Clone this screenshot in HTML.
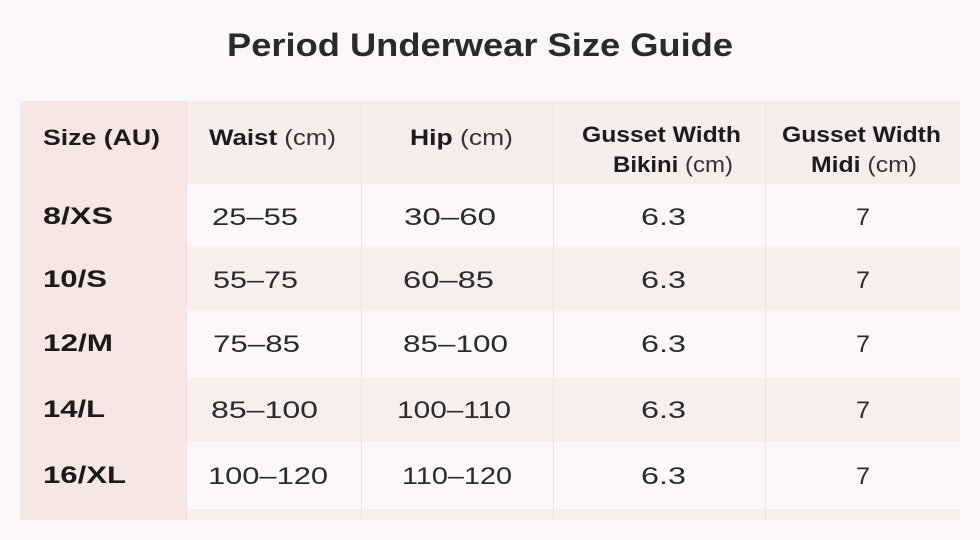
<!DOCTYPE html>
<html><head><meta charset="utf-8"><style>
html,body{margin:0;padding:0;background:#fbf6f8;}
svg{display:block;}
text{font-family:"Liberation Sans",sans-serif;}
.h{font-weight:bold;fill:#1c1c1c;font-size:22px;}
.u{font-weight:normal;fill:#333;}
.l{font-weight:bold;fill:#1a1a1a;font-size:24px;}
.d{fill:#2b2b2b;font-size:24px;}
</style></head><body>
<svg width="980" height="540" viewBox="0 0 980 540" xmlns="http://www.w3.org/2000/svg">
<rect width="980" height="540" fill="#fbf6f8"/>
<text x="227" y="56" textLength="506" lengthAdjust="spacingAndGlyphs" style="font-weight:bold;font-size:32px;fill:#2a2a2a">Period Underwear Size Guide</text>
<!-- header -->
<rect x="20" y="101" width="940" height="83" fill="#f8eded"/>
<rect x="20" y="101" width="166" height="83" fill="#f6e7e5"/>
<!-- rows -->
<rect x="20" y="184" width="940" height="63" fill="#fcf8f9"/>
<rect x="20" y="247" width="940" height="64" fill="#f8eeed"/>
<rect x="20" y="311" width="940" height="67" fill="#fcf8f9"/>
<rect x="20" y="378" width="940" height="64" fill="#f8eeed"/>
<rect x="20" y="442" width="940" height="67" fill="#fcf8f9"/>
<rect x="20" y="509" width="940" height="11" fill="#f8eeed"/>
<!-- first column -->
<rect x="20" y="184" width="166" height="336" fill="#f5e4e2" opacity="0.85"/>
<!-- column lines -->
<g stroke="#eee2e2" stroke-width="1">
<line x1="186.5" y1="101" x2="186.5" y2="520"/>
<line x1="361.5" y1="101" x2="361.5" y2="520"/>
<line x1="553.5" y1="101" x2="553.5" y2="520"/>
<line x1="765.5" y1="101" x2="765.5" y2="520"/>
</g>
<!-- header text -->
<text class="h" x="43" y="145" textLength="117" lengthAdjust="spacingAndGlyphs">Size (AU)</text>
<text class="h" x="209" y="145" textLength="127" lengthAdjust="spacingAndGlyphs">Waist <tspan class="u">(cm)</tspan></text>
<text class="h" x="410" y="145" textLength="103" lengthAdjust="spacingAndGlyphs">Hip <tspan class="u">(cm)</tspan></text>
<text class="h" x="582" y="142" textLength="159" lengthAdjust="spacingAndGlyphs">Gusset Width</text>
<text class="h" x="613" y="172" textLength="120" lengthAdjust="spacingAndGlyphs">Bikini <tspan class="u">(cm)</tspan></text>
<text class="h" x="782" y="142" textLength="159" lengthAdjust="spacingAndGlyphs">Gusset Width</text>
<text class="h" x="811" y="172" textLength="106" lengthAdjust="spacingAndGlyphs">Midi <tspan class="u">(cm)</tspan></text>
<!-- row labels -->
<text class="l" x="43" y="224" textLength="70" lengthAdjust="spacingAndGlyphs">8/XS</text>
<text class="l" x="43" y="287" textLength="64" lengthAdjust="spacingAndGlyphs">10/S</text>
<text class="l" x="43" y="351" textLength="70" lengthAdjust="spacingAndGlyphs">12/M</text>
<text class="l" x="43" y="417" textLength="62" lengthAdjust="spacingAndGlyphs">14/L</text>
<text class="l" x="43" y="483" textLength="83" lengthAdjust="spacingAndGlyphs">16/XL</text>
<!-- waist -->
<text class="d" x="212" y="225" textLength="86" lengthAdjust="spacingAndGlyphs">25–55</text>
<text class="d" x="213" y="288" textLength="85" lengthAdjust="spacingAndGlyphs">55–75</text>
<text class="d" x="213" y="352" textLength="87" lengthAdjust="spacingAndGlyphs">75–85</text>
<text class="d" x="211" y="418" textLength="107" lengthAdjust="spacingAndGlyphs">85–100</text>
<text class="d" x="208" y="484" textLength="120" lengthAdjust="spacingAndGlyphs">100–120</text>
<!-- hip -->
<text class="d" x="404" y="225" textLength="92" lengthAdjust="spacingAndGlyphs">30–60</text>
<text class="d" x="403" y="288" textLength="91" lengthAdjust="spacingAndGlyphs">60–85</text>
<text class="d" x="403" y="352" textLength="105" lengthAdjust="spacingAndGlyphs">85–100</text>
<text class="d" x="397" y="418" textLength="114" lengthAdjust="spacingAndGlyphs">100–110</text>
<text class="d" x="402" y="484" textLength="110" lengthAdjust="spacingAndGlyphs">110–120</text>
<!-- gusset bikini -->
<text class="d" x="641" y="225" textLength="45" lengthAdjust="spacingAndGlyphs">6.3</text>
<text class="d" x="641" y="288" textLength="45" lengthAdjust="spacingAndGlyphs">6.3</text>
<text class="d" x="641" y="352" textLength="45" lengthAdjust="spacingAndGlyphs">6.3</text>
<text class="d" x="641" y="418" textLength="45" lengthAdjust="spacingAndGlyphs">6.3</text>
<text class="d" x="641" y="484" textLength="45" lengthAdjust="spacingAndGlyphs">6.3</text>
<!-- gusset midi -->
<text class="d" x="856" y="225" textLength="14" lengthAdjust="spacingAndGlyphs">7</text>
<text class="d" x="856" y="288" textLength="14" lengthAdjust="spacingAndGlyphs">7</text>
<text class="d" x="856" y="352" textLength="14" lengthAdjust="spacingAndGlyphs">7</text>
<text class="d" x="856" y="418" textLength="14" lengthAdjust="spacingAndGlyphs">7</text>
<text class="d" x="856" y="484" textLength="14" lengthAdjust="spacingAndGlyphs">7</text>
</svg>
</body></html>
